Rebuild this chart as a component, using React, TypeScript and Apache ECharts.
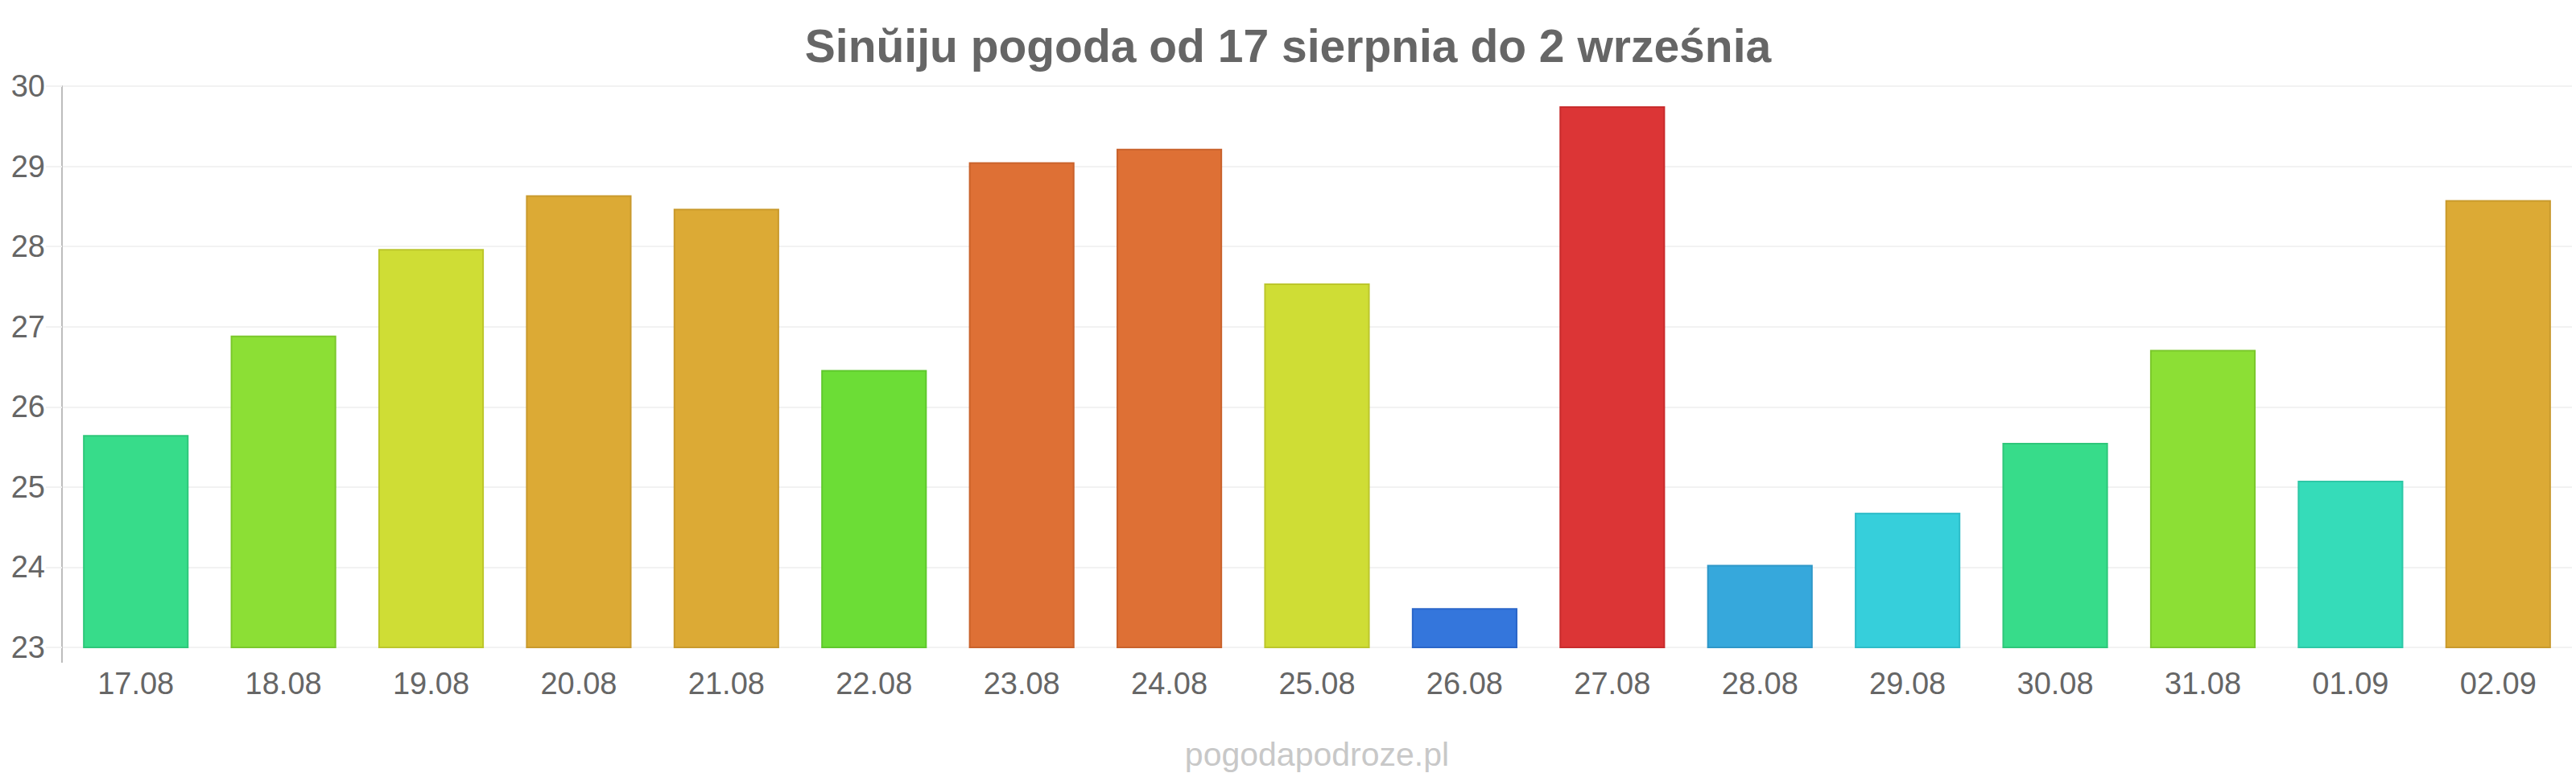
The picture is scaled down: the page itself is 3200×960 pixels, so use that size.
import React, { useEffect, useRef } from "react";
import * as echarts from "echarts";

const TITLE = "Sinŭiju pogoda od 17 sierpnia do 2 września";
const WATERMARK = "pogodapodroze.pl";

const categories = [
  "17.08", "18.08", "19.08", "20.08", "21.08", "22.08", "23.08", "24.08", "25.08",
  "26.08", "27.08", "28.08", "29.08", "30.08", "31.08", "01.09", "02.09",
];

const temperatures = [
  25.65, 26.89, 27.97, 28.64, 28.47, 26.46, 29.05, 29.22, 27.54,
  23.49, 29.75, 24.03, 24.68, 25.55, 26.71, 25.08, 28.58,
];

const fillColors = [
  "#37dc8a", "#8cdf35", "#cfdd35", "#dcaa35", "#dcaa35", "#6cdd36", "#de7035", "#de7035", "#cfdd35",
  "#3476dc", "#dc3536", "#36a8dc", "#36cfdb", "#37dc8a", "#8cdf35", "#35dcb9", "#dcaa35",
];

const borderColors = [
  "#2ec77a", "#7bc82c", "#bcc62c", "#c99a2d", "#c99a2d", "#5fc82d", "#c9622c", "#c9622c", "#bcc62c",
  "#2a66c9", "#c82c2d", "#2e97c8", "#2ebcc8", "#2ec77a", "#7bc82c", "#2dc8a6", "#c99a2d",
];

const yTicks = [23, 24, 25, 26, 27, 28, 29, 30];

const FONT = "'Liberation Sans', Arial, sans-serif";

export default function App() {
  const ref = useRef<HTMLDivElement>(null);

  useEffect(() => {
    document.body.style.margin = "0";
    if (!ref.current) return;
    const chart = echarts.init(ref.current, null, { renderer: "svg" });
    const gridLeft = 77;
    const option: any = {
      animation: false,
      backgroundColor: "#ffffff",
      title: {
        text: TITLE,
        left: "center",
        top: 23,
        textStyle: {
          fontFamily: FONT,
          fontSize: 57,
          fontWeight: "bold",
          color: "#666666",
        },
      },
      grid: { left: gridLeft, right: 5, top: 107, bottom: 156, containLabel: false },
      xAxis: {
        type: "category",
        data: categories,
        axisLine: { show: false },
        axisTick: { show: false },
        splitLine: { show: false },
        axisLabel: {
          fontFamily: FONT,
          fontSize: 38,
          color: "#666666",
          margin: 26,
        },
      },
      yAxis: {
        type: "value",
        min: yTicks[0],
        max: yTicks[yTicks.length - 1],
        interval: 1,
        axisLine: { show: true, lineStyle: { color: "#bdbdbd", width: 2 } },
        axisTick: { show: true, length: 20, lineStyle: { color: "#f2f2f2", width: 2 } },
        splitLine: { show: true, lineStyle: { color: "#f2f2f2", width: 2 } },
        axisLabel: {
          fontFamily: FONT,
          fontSize: 38,
          color: "#666666",
          margin: 21,
        },
      },
      series: [
        {
          type: "bar",
          barWidth: "71.5%",
          data: temperatures.map((v, i) => ({
            value: v,
            itemStyle: {
              color: fillColors[i],
              borderColor: borderColors[i],
              borderWidth: 2,
            },
          })),
        },
      ],
    };
    chart.setOption(option);

    const yBottom = chart.convertToPixel({ yAxisIndex: 0 }, yTicks[0]) as number;
    const xFirst = chart.convertToPixel({ xAxisIndex: 0 }, categories[0]) as number;
    const xLast = chart.convertToPixel({ xAxisIndex: 0 }, categories[categories.length - 1]) as number;
    const plotCenter = (xFirst + xLast) / 2;
    chart.setOption({
      graphic: [
        {
          type: "line",
          shape: { x1: gridLeft, y1: yBottom, x2: gridLeft, y2: yBottom + 19 },
          style: { stroke: "#bdbdbd", lineWidth: 2 },
          silent: true,
        },
        {
          type: "text",
          x: plotCenter,
          y: 937,
          style: {
            text: WATERMARK,
            fontFamily: FONT,
            fontSize: 41,
            fill: "#c8c8c8",
            textAlign: "center",
            textVerticalAlign: "middle",
          },
          silent: true,
        },
      ],
    });

    return () => chart.dispose();
  }, []);

  return <div ref={ref} style={{ width: 3200, height: 960 }} />;
}
